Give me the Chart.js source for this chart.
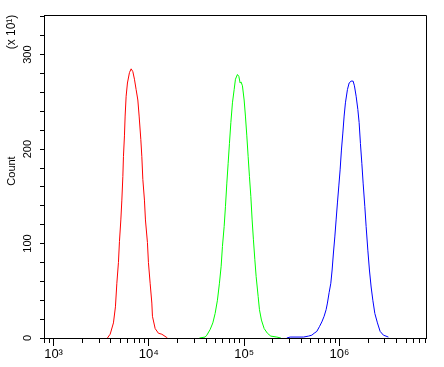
<!DOCTYPE html>
<html>
<head>
<meta charset="utf-8">
<script src="https://cdn.jsdelivr.net/npm/chart.js@4"></script>
<style>
  html, body { margin: 0; padding: 0; background: #fff; }
  #wrap { width: 444px; height: 367px; }
</style>
</head>
<body>
<div id="wrap"><canvas id="myChart" width="444" height="367"></canvas></div>
<script>
// fluorescence values (x) and counts in units of 10 (y)
const redX = [3677, 3927, 4252, 4461, 4616, 4797, 4915, 5084, 5209, 5336, 5414, 5546, 5640, 5778, 5964, 6259, 6521,
  6795, 7063, 7357, 7666, 7910, 8241, 8443, 8650, 8991, 9211, 9667, 9903, 10318, 10752, 10909, 11645, 12613, 13692, 15190, 15670];
const redY = [0, 4, 16, 33, 58, 80, 102, 125, 146, 171, 192, 214, 235, 256, 270, 281, 285,
  282, 274, 263, 252, 235, 210, 192, 168, 146, 125, 101, 80, 58, 37, 23, 10, 5, 4, 1, 0];

const greenX = [33960, 38980, 40610, 43980, 46950, 49620, 52460, 55060, 57380, 59210, 61690, 63660, 65850, 67950, 70130,
  72540, 75390, 78560, 81060, 85060, 88000, 90780, 93000, 95990, 100000, 103200, 106700, 110200, 113700, 117600,
  121300, 125200, 129500, 133700, 140300, 144800, 151900, 162200, 175600, 190600, 220400, 242700];
const greenY = [0, 1, 3, 9, 16, 26, 40, 58, 76, 97, 118, 139, 164, 185, 206,
  228, 249, 263, 274, 279, 277, 270, 271, 267, 252, 235, 214, 192, 171, 150,
  125, 104, 83, 65, 44, 30, 19, 10, 5, 2, 1, 0];

const blueX = [280500, 303900, 419000, 472800, 513300, 542600, 579100, 616700, 653600, 690800, 725000, 748200, 779600,
  812300, 838200, 865000, 894700, 923300, 952800, 985600, 1017000, 1049500, 1085700, 1120300, 1156100, 1213400,
  1264300, 1326600, 1392200, 1437000, 1497200, 1560200, 1610000, 1661400, 1718500, 1773400, 1847600, 1906700,
  1986600, 2064800, 2151200, 2241700, 2352800, 2504900, 2673500, 2895100, 3267600];
const blueY = [0, 1, 1, 2, 3, 5, 7, 12, 17, 23, 30, 37, 48,
  58, 72, 90, 107, 125, 143, 161, 178, 199, 217, 235, 249, 263,
  270, 272, 272, 267, 256, 242, 228, 206, 185, 164, 139, 118,
  93, 72, 54, 40, 26, 16, 7, 3, 1];

const xMin = 794, xMax = 8100000;
const yMin = 0, yMax = 342;
const decades = [2, 3, 4, 5, 6];
const supers = { 3: '\u00B3', 4: '\u2074', 5: '\u2075', 6: '\u2076' };

function toPoints(xs, ys) {
  return xs.map((x, i) => ({ x: x, y: ys[i] }));
}

function isMajor(v) {
  const l = Math.log10(v);
  return Math.abs(l - Math.round(l)) < 1e-9;
}

// box around the plot + the two y titles
const frame = {
  id: 'frame',
  afterDraw(chart) {
    const { ctx, chartArea: a } = chart;
    ctx.save();
    ctx.strokeStyle = '#000';
    ctx.lineWidth = 1;
    ctx.beginPath();
    ctx.moveTo(Math.round(a.left) + 0.5, Math.round(a.top) + 0.5);
    ctx.lineTo(Math.round(a.right) + 0.5, Math.round(a.top) + 0.5);
    ctx.lineTo(Math.round(a.right) + 0.5, Math.round(a.bottom) + 0.5);
    ctx.stroke();

    ctx.fillStyle = '#000';
    ctx.textAlign = 'center';
    ctx.textBaseline = 'middle';
    ctx.translate(12, 171);
    ctx.rotate(-Math.PI / 2);
    ctx.font = '11px "Liberation Sans", Arial, sans-serif';
    ctx.fillText('Count', 0, 0);
    ctx.restore();

    ctx.save();
    ctx.fillStyle = '#000';
    ctx.textAlign = 'center';
    ctx.textBaseline = 'middle';
    ctx.translate(12, 32);
    ctx.rotate(-Math.PI / 2);
    ctx.font = '12px "Liberation Sans", Arial, sans-serif';
    ctx.fillText('(x 10\u00B9)', 0, 0);
    ctx.restore();
  }
};

const ctx = document.getElementById('myChart');
const chart = new Chart(ctx, {
  type: 'line',
  data: {
    datasets: [
      { data: toPoints(redX, redY), borderColor: '#ff0000' },
      { data: toPoints(greenX, greenY), borderColor: '#00ff00' },
      { data: toPoints(blueX, blueY), borderColor: '#0000ff' }
    ]
  },
  options: {
    responsive: false,
    animation: false,
    events: [],
    layout: { padding: { top: 15, right: 18, left: 0, bottom: 0 } },
    elements: {
      line: { borderWidth: 1, tension: 0 },
      point: { radius: 0 }
    },
    plugins: { legend: { display: false }, tooltip: { enabled: false } },
    scales: {
      x: {
        type: 'logarithmic',
        min: xMin,
        max: xMax,
        afterBuildTicks(scale) {
          const t = [];
          decades.forEach(d => {
            for (let m = 1; m <= 9; m++) {
              const v = m * Math.pow(10, d);
              if (v >= xMin && v <= xMax) t.push({ value: v });
            }
          });
          scale.ticks = t;
        },
        afterFit(scale) { scale.height = 29; },
        border: { color: '#000', width: 1 },
        grid: {
          drawOnChartArea: false,
          drawTicks: true,
          tickLength: 8,
          tickColor: '#000',
          tickBorderDash: c => (c.tick && isMajor(c.tick.value)) ? [] : [4, 40]
        },
        ticks: {
          autoSkip: false,
          maxRotation: 0,
          minRotation: 0,
          padding: 1,
          color: '#000',
          font: { family: '"Liberation Sans", Arial, sans-serif', size: 13 },
          callback: v => isMajor(v) ? '10' + (supers[Math.round(Math.log10(v))] || '') : ''
        }
      },
      y: {
        min: yMin,
        max: yMax,
        afterBuildTicks(scale) {
          const t = [];
          for (let v = 0; v <= yMax; v += 20) t.push({ value: v });
          scale.ticks = t;
        },
        afterFit(scale) { scale.width = 44; },
        border: { color: '#000', width: 1 },
        grid: {
          drawOnChartArea: false,
          drawTicks: true,
          tickLength: 4,
          tickColor: '#000'
        },
        ticks: {
          autoSkip: false,
          minRotation: 90,
          maxRotation: 90,
          crossAlign: 'center',
          padding: 3,
          color: '#000',
          font: { family: '"Liberation Sans", Arial, sans-serif', size: 11 },
          callback: v => (v % 100 === 0) ? String(v) : ''
        }
      }
    }
  },
  plugins: [frame]
});
</script>
</body>
</html>
